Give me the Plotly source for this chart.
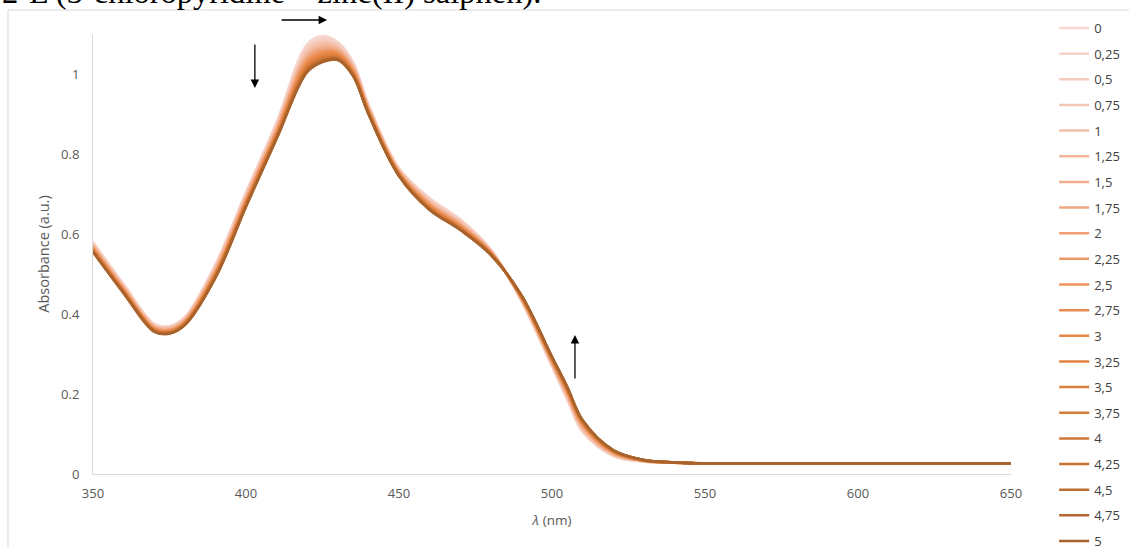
import plotly.graph_objects as go

wavelength = [350, 360, 370, 375, 380, 390, 400, 410, 420, 425, 430, 435, 440,
              450, 460, 470, 480, 490, 500, 505, 510, 520, 530, 540, 550, 650]

equivalents = ["0", "0,25", "0,5", "0,75", "1", "1,25", "1,5", "1,75", "2", "2,25",
               "2,5", "2,75", "3", "3,25", "3,5", "3,75", "4", "4,25", "4,5", "4,75", "5"]

abs_0 = [.580, .475, .376, .370, .393, .525, .705, .880, 1.075, 1.095, 1.080, 1.030, .925, .765, .690, .637, .562, .432, .268, .185, .105, .045, .031, .028, .027, .027]
abs_025 = [.578, .473, .374, .369, .391, .522, .702, .877, 1.069, 1.090, 1.076, 1.027, .923, .763, .688, .635, .561, .433, .270, .188, .107, .046, .031, .028, .027, .027]
abs_05 = [.576, .471, .373, .367, .390, .519, .699, .873, 1.064, 1.085, 1.073, 1.024, .921, .762, .685, .633, .560, .434, .272, .190, .110, .047, .032, .028, .027, .027]
abs_075 = [.574, .470, .371, .366, .388, .517, .697, .870, 1.059, 1.080, 1.070, 1.022, .919, .760, .683, .631, .559, .435, .274, .193, .112, .048, .032, .028, .027, .027]
abs_1 = [.572, .468, .370, .364, .387, .515, .694, .867, 1.054, 1.076, 1.067, 1.020, .918, .759, .681, .629, .558, .436, .276, .195, .114, .049, .032, .028, .027, .027]
abs_125 = [.571, .467, .369, .363, .385, .512, .691, .865, 1.049, 1.071, 1.063, 1.017, .916, .758, .679, .627, .557, .438, .277, .197, .116, .051, .033, .028, .027, .027]
abs_15 = [.569, .465, .367, .362, .384, .510, .689, .862, 1.045, 1.067, 1.061, 1.015, .914, .756, .677, .625, .556, .438, .279, .199, .118, .051, .033, .028, .027, .027]
abs_175 = [.568, .464, .366, .361, .383, .508, .687, .859, 1.041, 1.063, 1.058, 1.013, .913, .755, .675, .624, .555, .439, .280, .201, .120, .052, .033, .028, .027, .027]
abs_2 = [.566, .462, .365, .360, .381, .506, .685, .857, 1.037, 1.059, 1.055, 1.011, .911, .754, .674, .622, .554, .440, .282, .203, .122, .053, .033, .029, .027, .027]
abs_225 = [.565, .461, .364, .359, .380, .504, .683, .855, 1.033, 1.056, 1.053, 1.009, .910, .753, .672, .621, .554, .441, .283, .205, .123, .054, .033, .029, .027, .027]
abs_25 = [.564, .460, .363, .358, .379, .502, .681, .853, 1.030, 1.053, 1.051, 1.007, .909, .752, .671, .619, .553, .442, .284, .207, .125, .055, .034, .029, .027, .027]
abs_275 = [.562, .459, .362, .357, .378, .501, .679, .851, 1.026, 1.050, 1.049, 1.006, .908, .751, .669, .618, .552, .443, .286, .208, .126, .056, .034, .029, .027, .027]
abs_3 = [.561, .458, .361, .356, .377, .499, .678, .849, 1.023, 1.047, 1.047, 1.004, .907, .750, .668, .617, .552, .443, .287, .209, .127, .056, .034, .029, .027, .027]
abs_325 = [.560, .457, .360, .355, .377, .498, .676, .847, 1.020, 1.044, 1.045, 1.003, .906, .749, .667, .616, .551, .444, .288, .211, .128, .057, .034, .029, .027, .027]
abs_35 = [.559, .456, .360, .354, .376, .496, .675, .846, 1.018, 1.042, 1.043, 1.001, .905, .749, .665, .615, .551, .444, .289, .212, .130, .057, .034, .029, .027, .027]
abs_375 = [.558, .455, .359, .354, .375, .495, .673, .844, 1.015, 1.039, 1.041, 1.000, .904, .748, .664, .614, .550, .445, .290, .213, .131, .058, .034, .029, .027, .027]
abs_4 = [.558, .455, .358, .353, .374, .494, .672, .843, 1.013, 1.037, 1.040, .999, .903, .747, .663, .613, .550, .445, .290, .214, .132, .058, .035, .029, .027, .027]
abs_425 = [.557, .454, .358, .353, .374, .493, .671, .841, 1.011, 1.035, 1.039, .998, .902, .747, .662, .612, .549, .446, .291, .215, .133, .059, .035, .029, .027, .027]
abs_45 = [.556, .453, .357, .352, .373, .492, .670, .840, 1.009, 1.033, 1.037, .997, .901, .746, .662, .611, .549, .446, .292, .216, .134, .059, .035, .029, .027, .027]
abs_475 = [.555, .452, .356, .351, .372, .491, .669, .839, 1.006, 1.031, 1.036, .996, .901, .745, .661, .611, .548, .447, .293, .217, .134, .060, .035, .029, .027, .027]
abs_5 = [.555, .452, .356, .351, .372, .490, .668, .838, 1.005, 1.030, 1.035, .995, .900, .745, .660, .610, .548, .447, .293, .218, .135, .060, .035, .029, .027, .027]

spectra = [abs_0, abs_025, abs_05, abs_075, abs_1, abs_125, abs_15, abs_175, abs_2, abs_225,
           abs_25, abs_275, abs_3, abs_325, abs_35, abs_375, abs_4, abs_425, abs_45, abs_475, abs_5]

colors = ["#f7d9d1", "#f6d3c8", "#f5cdbf", "#f4c6b5", "#f3bfa9", "#f2b79c", "#f1af8e",
          "#f0a781", "#ef9f72", "#ee9865", "#ed9157", "#ea8b4e", "#e68747", "#e18342",
          "#dc7f3e", "#d57b3a", "#ce7736", "#c57233", "#bb6c30", "#b1672d", "#a8622b"]

fig = go.Figure()
for name, ys, col in zip(equivalents, spectra, colors):
    fig.add_trace(go.Scatter(
        x=wavelength, y=ys, mode="lines", name=name, legendgroup=name,
        line=dict(color=col, width=2.5, shape="spline", smoothing=1.0),
    ))

base_font = "Open Sans, Arial, sans-serif"
tick_font = dict(family=base_font, size=13, color="#595959")

fig.update_layout(
    width=1129, height=547,
    margin=dict(l=93, r=118, t=34, b=73, autoexpand=False),
    paper_bgcolor="white", plot_bgcolor="white",
    showlegend=True,
    legend=dict(
        x=1.047, xanchor="left", y=1.0476, yanchor="top",
        font=dict(family=base_font, size=13, color="#404040"),
        tracegroupgap=5.75, bgcolor="rgba(0,0,0,0)", maxheight=800,
    ),
    xaxis=dict(
        range=[350, 650], tickvals=[350, 400, 450, 500, 550, 600, 650],
        showgrid=False, zeroline=False, showline=True, linecolor="#d9d9d9", linewidth=1,
        ticks="outside", ticklen=7, tickcolor="rgba(0,0,0,0)",
        tickfont=tick_font,
        title=dict(text="<i>λ</i> (nm)", font=dict(family=base_font, size=13.5, color="#595959"),
                   standoff=14),
    ),
    yaxis=dict(
        range=[0, 1.1], tickvals=[0, 0.2, 0.4, 0.6, 0.8, 1.0],
        ticktext=["0", "0.2", "0.4", "0.6", "0.8", "1"],
        showgrid=False, zeroline=False, showline=True, linecolor="#d9d9d9", linewidth=1,
        ticks="outside", ticklen=10, tickcolor="rgba(0,0,0,0)",
        tickfont=tick_font,
        title=dict(text="Absorbance (a.u.)", font=dict(family=base_font, size=14.5, color="#595959"),
                   standoff=8),
    ),
    shapes=[dict(type="rect", xref="paper", yref="paper",
                 x0=-0.0926, x1=2, y0=-1, y1=1.0545,
                 line=dict(color="#d9d9d9", width=1), fillcolor="rgba(0,0,0,0)", layer="below")],
)

# top caption (cut off in the reference)
fig.add_annotation(
    xref="paper", yref="paper", x=-0.1013, y=1.051, xanchor="left", yanchor="bottom",
    text="2-L (3-chloropyridine – zinc(II) salphen).", showarrow=False,
    font=dict(family="Liberation Serif, Times New Roman, serif", size=32.5, color="black"),
)

# arrows
arrow = dict(showarrow=True, arrowhead=2, arrowsize=1.3, arrowwidth=1.3, arrowcolor="black", text="")
fig.add_annotation(xref="x", yref="y", axref="x", ayref="y",
                   x=402.9, y=0.965, ax=402.9, ay=1.0775, **arrow)
fig.add_annotation(xref="x", yref="paper", axref="pixel", ayref="pixel",
                   x=426.5, y=1.0318, ax=-47, ay=0, **arrow)
fig.add_annotation(xref="x", yref="y", axref="x", ayref="y",
                   x=507.5, y=0.3475, ax=507.5, ay=0.235, **arrow)

fig.write_html("out.html", config={"displayModeBar": False},
               post_script="document.body.style.margin='0';document.body.style.overflow='hidden';")
